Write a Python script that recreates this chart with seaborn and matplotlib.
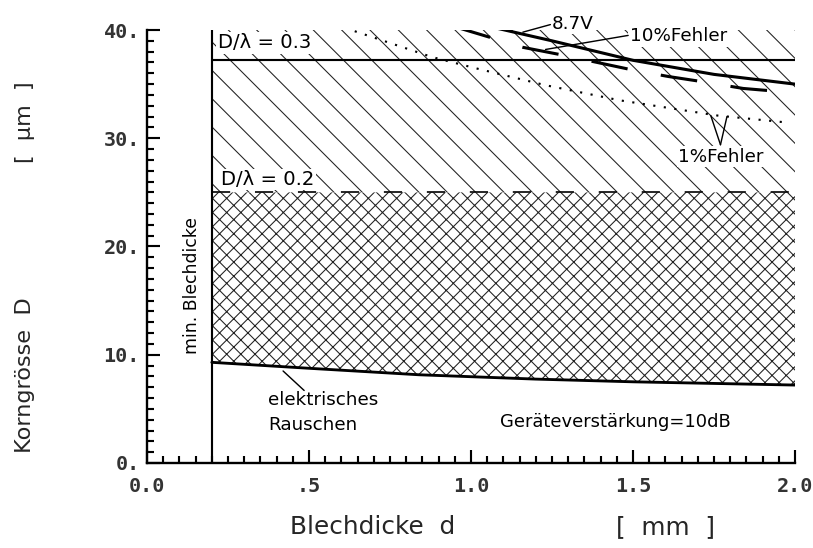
import matplotlib
matplotlib.use('Agg')
import matplotlib.pyplot as plt  # plotting library
from matplotlib.ticker import MultipleLocator

import numpy as np
import pandas as pd
import seaborn as sns  # plotting library

# --- data --------------------------------------------------------------
d_min = 0.2          # minimal sheet thickness [mm]
d_max = 2.0
grain_ratio_03 = 37.2   # D/lambda = 0.3 [um]
grain_ratio_02 = 25.0   # D/lambda = 0.2 [um]

noise_d = [0.2, 0.5, 0.84, 1.2, 1.5, 2.0]
noise_D = [9.3, 8.75, 8.15, 7.75, 7.5, 7.2]

err10_87v_d = [1.06, 1.25, 1.5, 1.75, 2.0]
err10_87v_D = [40.3, 39.0, 37.2, 35.9, 35.0]

err10_d = [0.95, 1.05, 1.16, 1.28, 1.39, 1.5, 1.61, 1.72, 1.84, 1.96]
err10_D = [40.3, 39.4, 38.4, 37.7, 37.0, 36.3, 35.7, 35.2, 34.6, 34.3]

err1_d = [0.61, 0.88, 1.01, 1.23, 1.46, 1.76, 1.96]
err1_D = [40.2, 37.5, 36.5, 34.9, 33.5, 32.1, 31.5]

x_ticks = [0.0, 0.5, 1.0, 1.5, 2.0]
x_ticklabels = ['0.0', '.5', '1.0', '1.5', '2.0']
y_ticks = [0, 10, 20, 30, 40]
y_ticklabels = ['0.', '10.', '20.', '30.', '40.']

DPI = 170

sns.set_theme(style='ticks')
plt.rcParams['font.family'] = ['DejaVu Sans']
plt.rcParams['hatch.linewidth'] = 0.45
plt.rcParams['hatch.color'] = '#222222'

fig = plt.figure(figsize=(813 / DPI, 548 / DPI), dpi=DPI, facecolor='white')
ax = fig.add_axes([147 / 813, 1 - 463 / 548, (795 - 147) / 813, (463 - 30) / 548])
ax.set_facecolor('white')

# hatched regions
ax.fill_between([d_min, d_max], grain_ratio_02, 40, hatch='\\\\', facecolor='none',
                edgecolor='#222222', linewidth=0, zorder=1)
noise_df = pd.DataFrame({'d': noise_d, 'D': noise_D})
ax.fill_between(noise_df['d'], noise_df['D'], grain_ratio_02, hatch='xxxx', facecolor='none',
                edgecolor='#222222', linewidth=0, zorder=1)

# curves
sns.lineplot(data=noise_df, x='d', y='D', ax=ax, color='black', lw=1.2, zorder=4)
sns.lineplot(x=err10_87v_d, y=err10_87v_D, ax=ax, color='black', lw=1.3, zorder=4)
sns.lineplot(x=err10_d, y=err10_D, ax=ax, color='black', lw=1.3, linestyle=(0, (12, 11)),
             zorder=4)
sns.lineplot(x=err1_d, y=err1_D, ax=ax, color='black', lw=0.9, linestyle=(0, (1, 4)),
             zorder=4)
sns.lineplot(x=[d_min, d_max], y=[grain_ratio_03] * 2, ax=ax, color='black', lw=0.9, zorder=4)
sns.lineplot(x=[d_min, d_max], y=[grain_ratio_02] * 2, ax=ax, color='black', lw=0.7,
             linestyle=(0, (11, 15)), zorder=4)
ax.axvline(d_min, color='black', lw=0.9, zorder=4)

# annotations
box = dict(facecolor='white', edgecolor='none', pad=0.6)
txt = dict(color='black', fontsize=7.8, zorder=3, bbox=box)
ax.text(0.218, 38.8, 'D/λ = 0.3', va='center', ha='left', fontsize=8.3, color='black',
        zorder=3, bbox=box)
ax.text(0.228, 26.2, 'D/λ = 0.2', va='center', ha='left', fontsize=8.3, color='black',
        zorder=3, bbox=box)
ax.text(1.25, 40.6, '8.7V', va='center', ha='left', clip_on=False, **txt)
ax.text(1.49, 39.4, '10%Fehler', va='center', ha='left', **txt)
ax.text(1.64, 28.3, '1%Fehler', va='center', ha='left', **txt)
ax.text(0.373, 5.8, 'elektrisches', va='center', ha='left', color='black', fontsize=7.8)
ax.text(0.373, 3.5, 'Rauschen', va='center', ha='left', color='black', fontsize=7.8)
ax.text(1.09, 3.8, 'Geräteverstärkung=10dB', va='center', ha='left', fontsize=7.6, color='black')
ax.text(0.14, 16.4, 'min. Blechdicke', rotation=90, va='center', ha='center',
        fontsize=7.3, color='black')

pointer = dict(arrowstyle='-', color='black', lw=0.6, shrinkA=0, shrinkB=0)
for start, end in [((1.16, 39.8), (1.245, 40.5)),
                   ((1.23, 38.2), (1.485, 39.5)),
                   ((1.77, 29.4), (1.74, 32.1)),
                   ((1.77, 29.4), (1.79, 32.0)),
                   ((0.42, 8.5), (0.485, 6.7))]:
    ax.annotate('', xy=start, xytext=end, arrowprops=pointer, annotation_clip=False, zorder=5)

# axes styling
ax.set_xlim(0, 2.0)
ax.set_ylim(0, 40)
sns.despine(ax=ax)
for side in ['left', 'bottom']:
    ax.spines[side].set_color('black')
    ax.spines[side].set_linewidth(1.0)
ax.set_xticks(x_ticks)
ax.set_xticklabels(x_ticklabels)
ax.set_yticks(y_ticks)
ax.set_yticklabels(y_ticklabels)
ax.xaxis.set_minor_locator(MultipleLocator(0.05))
ax.yaxis.set_minor_locator(MultipleLocator(1))
ax.tick_params(which='both', direction='in', color='black', width=0.9)
ax.tick_params(which='major', length=5.5)
ax.tick_params(which='minor', length=3)
ax.tick_params(axis='x', which='major', pad=6)
ax.tick_params(axis='y', which='major', pad=3)
for lab in ax.get_xticklabels() + ax.get_yticklabels():
    lab.set_family('DejaVu Sans Mono')
    lab.set_fontsize(8.5)
    lab.set_fontweight('bold')
    lab.set_color('#333333')
ax.set_xlabel('')
ax.set_ylabel('')

fig.text(290 / 813, 1 - 527 / 548, 'Blechdicke  d', ha='left', va='center', fontsize=10.5)
fig.text(616 / 813, 1 - 527 / 548, '[  mm  ]', ha='left', va='center', fontsize=10.5)
fig.text(25 / 813, 1 - 375 / 548, 'Korngrösse  D', rotation=90, ha='center', va='center',
         fontsize=9.5)
fig.text(25 / 813, 1 - 122 / 548, '[  µm  ]', rotation=90, ha='center', va='center',
         fontsize=9.5)

fig.savefig('out.png', dpi=DPI, facecolor='white')
